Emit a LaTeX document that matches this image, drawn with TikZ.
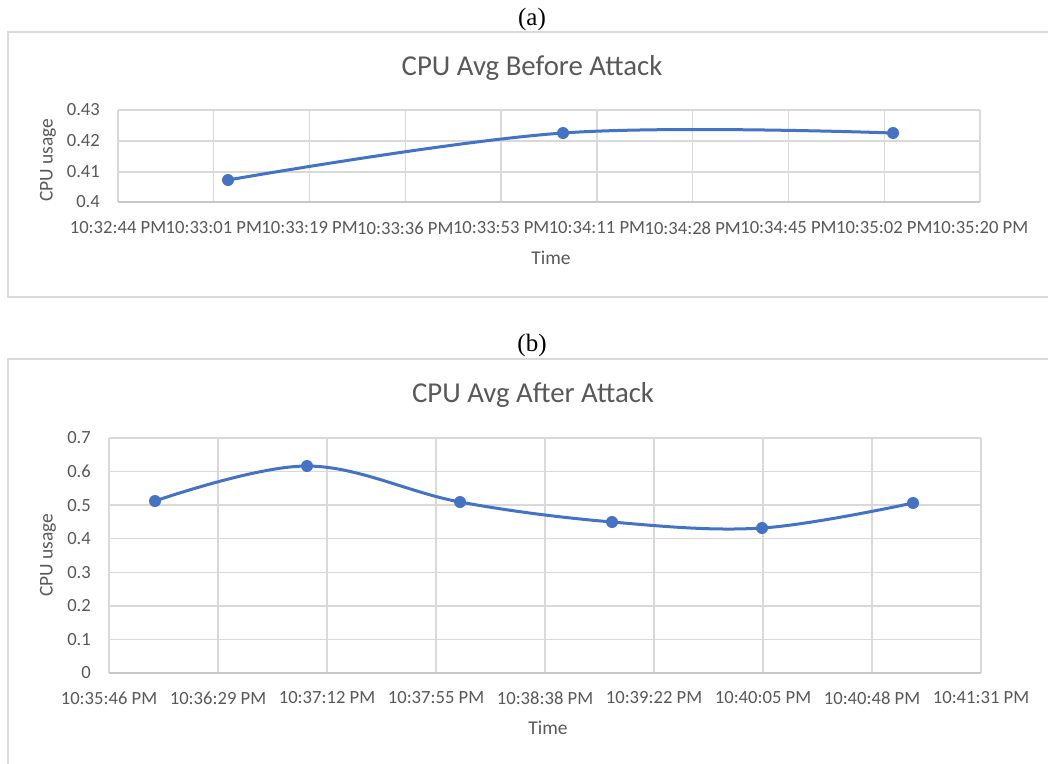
\documentclass[tikz,border=0pt]{standalone}
\usepackage{fontspec}
\setmainfont{Liberation Serif}
\newfontfamily\chartfont{Carlito}
\usetikzlibrary{positioning}
\definecolor{gridgray}{HTML}{D9D9D9}
\definecolor{axisgray}{HTML}{C8C8C8}
\definecolor{textgray}{HTML}{595959}
\definecolor{lineblue}{HTML}{4472C4}

\begin{document}
\begin{tikzpicture}[x=1pt, y=-1pt,
  gridline/.style={draw=gridgray, line width=1.4pt},
  axisline/.style={draw=axisgray, line width=1.6pt},
  frameline/.style={draw=gridgray, line width=1.2pt},
  series/.style={lineblue, line width=3pt, line cap=round, line join=round},
  marker/.style={circle, fill=lineblue, inner sep=0pt, minimum size=12pt},
  ticklabel/.style={font=\chartfont\fontsize{18.6}{20}\selectfont, text=textgray, inner sep=0pt},
  axislabel/.style={font=\chartfont\fontsize{19.5}{21}\selectfont, text=textgray, inner sep=0pt},
  charttitle/.style={font=\chartfont\fontsize{28.8}{30}\selectfont, text=textgray, inner sep=0pt},
  panellabel/.style={font=\fontsize{25}{27}\selectfont, inner sep=0pt}
]
\useasboundingbox (0,0) rectangle (1048,763);
\fill[white] (0,0) rectangle (1048,763);

% panel (a)
\node[panellabel] (labelA) at (532,19) {(a)};
\draw[frameline] (1060,32) -- (8,32) -- (8,297) -- (1060,297);
\node[charttitle] (titleA) at (532,68) {CPU Avg Before Attack};
\foreach \yy in {110,141,172} \draw[gridline] (118,\yy) -- (980,\yy);
\foreach \t [count=\i from 0] in {10:32:44,10:33:01,10:33:19,10:33:36,10:33:53,10:34:11,10:34:28,10:34:45,10:35:02,10:35:20} {
  \pgfmathsetmacro\xx{118+\i*95.78}
  \draw[gridline] (\xx,110) -- (\xx,202);
  \node[ticklabel] (ta\i) at (\xx,228) {\t\ PM};
}
\draw[axisline] (118,202) -- (980,202);
\foreach \v/\yy [count=\i] in {0.43/110,0.42/141,0.41/172,0.4/202}
  \node[ticklabel, anchor=east] (va\i) at (100,\yy) {\v};
\node[axislabel, rotate=90] (ylabA) at (48,160) {CPU usage};
\node[axislabel] (xlabA) at (551,258) {Time};
\coordinate (a1) at (228,180);
\coordinate (a2) at (563,133);
\coordinate (a3) at (893,133);
\draw[series] plot[smooth, tension=0.6] coordinates {(a1) (a2) (a3)};
\foreach \p in {a1,a2,a3} \node[marker] (m\p) at (\p) {};

% panel (b)
\node[panellabel] (labelB) at (532,345) {(b)};
\draw[frameline] (1060,359) -- (8,359) -- (8,780);
\node[charttitle] (titleB) at (533,395) {CPU Avg After Attack};
\foreach \k in {0,...,6} \draw[gridline] (109,438+\k*33.57) -- (981,438+\k*33.57);
\foreach \t [count=\i from 0] in {10:35:46,10:36:29,10:37:12,10:37:55,10:38:38,10:39:22,10:40:05,10:40:48,10:41:31} {
  \pgfmathsetmacro\xx{109+\i*109}
  \draw[gridline] (\xx,438) -- (\xx,673);
  \node[ticklabel] (tb\i) at (\xx,698) {\t\ PM};
}
\draw[axisline] (109,673) -- (981,673);
\foreach \v [count=\k from 0] in {0.7,0.6,0.5,0.4,0.3,0.2,0.1,0}
  \node[ticklabel, anchor=east] (vb\k) at (91,438+\k*33.57) {\v};
\node[axislabel, rotate=90] (ylabB) at (48,555) {CPU usage};
\node[axislabel] (xlabB) at (548,728) {Time};
\coordinate (b1) at (155,501);
\coordinate (b2) at (307,466);
\coordinate (b3) at (460,502);
\coordinate (b4) at (612,522);
\coordinate (b5) at (762,528);
\coordinate (b6) at (913,503);
\draw[series] plot[smooth, tension=0.6] coordinates {(b1) (b2) (b3) (b4) (b5) (b6)};
\foreach \p in {b1,b2,b3,b4,b5,b6} \node[marker] (m\p) at (\p) {};
\end{tikzpicture}
\end{document}
